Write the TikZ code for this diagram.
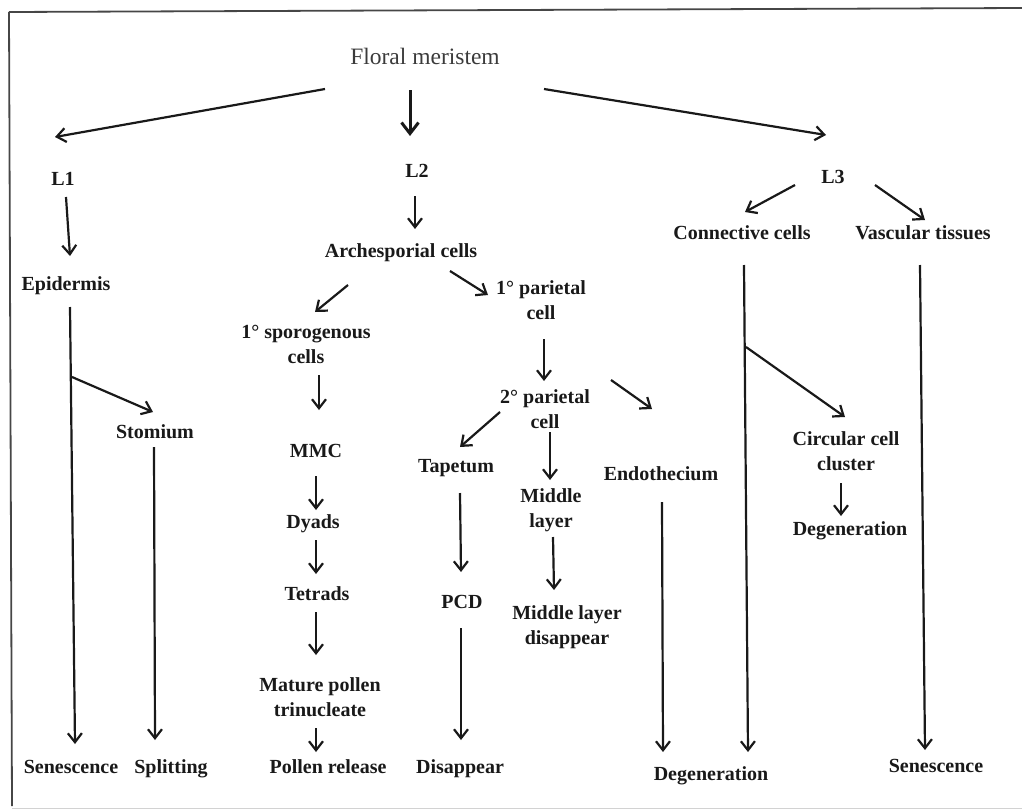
\documentclass[tikz,border=0pt]{standalone}
\usepackage{fontspec}
\setmainfont{Liberation Serif}
\usetikzlibrary{arrows.meta}
\definecolor{ink}{RGB}{25, 25, 25}
\definecolor{frame_gray}{RGB}{70, 70, 70}
\tikzstyle{lbl}=[anchor=base,inner sep=0pt,align=center,text=ink,
  font=\fontsize{20}{25}\selectfont\bfseries]
\tikzstyle{titlelbl}=[anchor=base,inner sep=0pt,text=ink!85,
  font=\fontsize{23.5}{28}\selectfont]
\tikzstyle{none}=[]
\tikzstyle{arr}=[draw=ink,line width=2.2pt,
  -{Straight Barb[length=9pt,width=14pt]}]
\tikzstyle{bigarr}=[draw=ink,line width=3pt,
  -{Straight Barb[length=11pt,width=17pt]}]
\tikzstyle{border}=[draw=frame_gray,line width=1.8pt]

\begin{document}
\begin{tikzpicture}[x=1pt, y=-1pt]
            \useasboundingbox (0, 0) rectangle (1022, 811);
            \draw [style=border] (9, 12) -- (1022, 8);
            \draw [style=border] (9, 12) -- (12, 806);
            \draw [style=border, draw=gray!35, line width=1pt] (12, 808) -- (1022, 808);
            % labels (two-line labels sit on their last baseline)
            \node [style=titlelbl] (0) at (425, 64) {Floral meristem};
            \node [style=lbl] (1) at (63, 185) {L1};
            \node [style=lbl] (2) at (417, 177) {L2};
            \node [style=lbl] (3) at (833, 183) {L3};
            \node [style=lbl] (4) at (66, 290) {Epidermis};
            \node [style=lbl] (5) at (401, 257) {Archesporial cells};
            \node [style=lbl] (6) at (742, 239) {Connective cells};
            \node [style=lbl] (7) at (923, 239) {Vascular tissues};
            \node [style=lbl] (8) at (306, 363) {1° sporogenous\\cells};
            \node [style=lbl] (9) at (541, 319) {1° parietal\\cell};
            \node [style=lbl] (10) at (155, 438) {Stomium};
            \node [style=lbl] (11) at (316, 457) {MMC};
            \node [style=lbl] (12) at (545, 428) {2° parietal\\cell};
            \node [style=lbl] (13) at (456, 472) {Tapetum};
            \node [style=lbl] (14) at (661, 480) {Endothecium};
            \node [style=lbl] (15) at (551, 527) {Middle\\layer};
            \node [style=lbl] (16) at (846, 470) {Circular cell\\cluster};
            \node [style=lbl] (17) at (850, 535) {Degeneration};
            \node [style=lbl] (18) at (313, 528) {Dyads};
            \node [style=lbl] (19) at (317, 600) {Tetrads};
            \node [style=lbl] (20) at (462, 608) {PCD};
            \node [style=lbl] (21) at (567, 644) {Middle layer\\disappear};
            \node [style=lbl] (22) at (320, 716) {Mature pollen\\trinucleate};
            \node [style=lbl] (23) at (71, 773) {Senescence};
            \node [style=lbl] (24) at (171, 773) {Splitting};
            \node [style=lbl] (25) at (328, 773) {Pollen release};
            \node [style=lbl] (26) at (460, 773) {Disappear};
            \node [style=lbl] (27) at (711, 780) {Degeneration};
            \node [style=lbl] (28) at (936, 772) {Senescence};
            % arrow ends
            \node [style=none] (40) at (325, 89) {};
            \node [style=none] (41) at (55, 137) {};
            \node [style=none] (42) at (410, 90) {};
            \node [style=none] (43) at (410, 136) {};
            \node [style=none] (44) at (544, 89) {};
            \node [style=none] (45) at (826, 135) {};
            \node [style=none] (46) at (66, 197) {};
            \node [style=none] (47) at (70, 256) {};
            \node [style=none] (48) at (415, 196) {};
            \node [style=none] (49) at (415, 229) {};
            \node [style=none] (50) at (795, 185) {};
            \node [style=none] (51) at (745, 212) {};
            \node [style=none] (52) at (875, 185) {};
            \node [style=none] (53) at (925, 220) {};
            \node [style=none] (54) at (348, 285) {};
            \node [style=none] (55) at (315, 312) {};
            \node [style=none] (56) at (450, 271) {};
            \node [style=none] (57) at (488, 295) {};
            \node [style=none] (58) at (70, 307) {};
            \node [style=none] (59) at (75, 744) {};
            \node [style=none] (60) at (72, 377) {};
            \node [style=none] (61) at (153, 412) {};
            \node [style=none] (62) at (154, 447) {};
            \node [style=none] (63) at (155, 740) {};
            \node [style=none] (64) at (319, 375) {};
            \node [style=none] (65) at (319, 410) {};
            \node [style=none] (66) at (316, 476) {};
            \node [style=none] (67) at (316, 510) {};
            \node [style=none] (68) at (316, 540) {};
            \node [style=none] (69) at (316, 574) {};
            \node [style=none] (70) at (316, 612) {};
            \node [style=none] (71) at (316, 655) {};
            \node [style=none] (72) at (316, 728) {};
            \node [style=none] (73) at (316, 752) {};
            \node [style=none] (74) at (544, 339) {};
            \node [style=none] (75) at (544, 381) {};
            \node [style=none] (76) at (500, 412) {};
            \node [style=none] (77) at (460, 447) {};
            \node [style=none] (78) at (611, 380) {};
            \node [style=none] (79) at (652, 409) {};
            \node [style=none] (80) at (550, 432) {};
            \node [style=none] (81) at (550, 480) {};
            \node [style=none] (82) at (460, 493) {};
            \node [style=none] (83) at (461, 572) {};
            \node [style=none] (84) at (461, 628) {};
            \node [style=none] (85) at (461, 740) {};
            \node [style=none] (86) at (553, 537) {};
            \node [style=none] (87) at (554, 590) {};
            \node [style=none] (88) at (662, 502) {};
            \node [style=none] (89) at (663, 752) {};
            \node [style=none] (90) at (744, 265) {};
            \node [style=none] (91) at (748, 752) {};
            \node [style=none] (92) at (746, 347) {};
            \node [style=none] (93) at (845, 417) {};
            \node [style=none] (94) at (841, 483) {};
            \node [style=none] (95) at (841, 516) {};
            \node [style=none] (96) at (920, 265) {};
            \node [style=none] (97) at (925, 750) {};
            % arrows
            \draw [style=arr] (40.center) to (41.center);
            \draw [style=bigarr] (42.center) to (43.center);
            \draw [style=arr] (44.center) to (45.center);
            \draw [style=arr] (46.center) to (47.center);
            \draw [style=arr] (48.center) to (49.center);
            \draw [style=arr] (50.center) to (51.center);
            \draw [style=arr] (52.center) to (53.center);
            \draw [style=arr] (54.center) to (55.center);
            \draw [style=arr] (56.center) to (57.center);
            \draw [style=arr] (58.center) to (59.center);
            \draw [style=arr] (60.center) to (61.center);
            \draw [style=arr] (62.center) to (63.center);
            \draw [style=arr] (64.center) to (65.center);
            \draw [style=arr] (66.center) to (67.center);
            \draw [style=arr] (68.center) to (69.center);
            \draw [style=arr] (70.center) to (71.center);
            \draw [style=arr] (72.center) to (73.center);
            \draw [style=arr] (74.center) to (75.center);
            \draw [style=arr] (76.center) to (77.center);
            \draw [style=arr] (78.center) to (79.center);
            \draw [style=arr] (80.center) to (81.center);
            \draw [style=arr] (82.center) to (83.center);
            \draw [style=arr] (84.center) to (85.center);
            \draw [style=arr] (86.center) to (87.center);
            \draw [style=arr] (88.center) to (89.center);
            \draw [style=arr] (90.center) to (91.center);
            \draw [style=arr] (92.center) to (93.center);
            \draw [style=arr] (94.center) to (95.center);
            \draw [style=arr] (96.center) to (97.center);
\end{tikzpicture}
\end{document}
